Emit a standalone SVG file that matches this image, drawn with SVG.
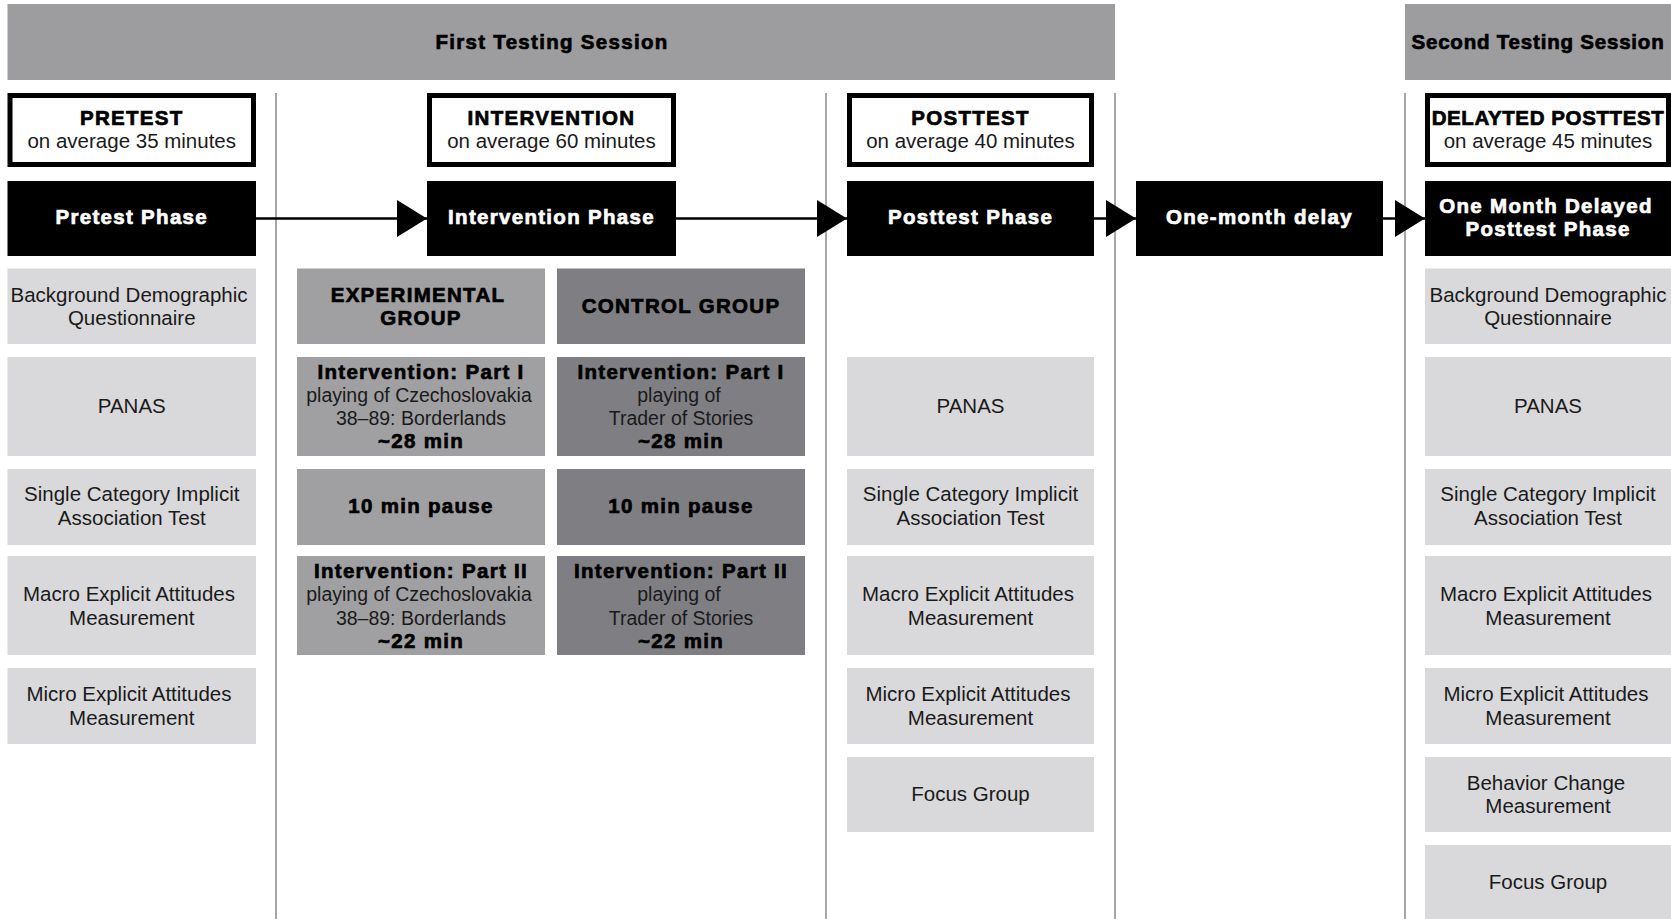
<svg xmlns="http://www.w3.org/2000/svg" width="1671" height="919" viewBox="0 0 1671 919">
<defs>
<style>
.t{font-family:"Liberation Sans",Arial,sans-serif;font-size:20.5px;fill:#1a1a1a;text-anchor:middle}
.s{font-size:19.5px}
.h{font-family:"Liberation Sans",Arial,sans-serif;font-size:20.5px;font-weight:bold;fill:#000;text-anchor:middle;letter-spacing:1.3px;stroke:#000;stroke-width:0.7px}
.w{fill:#fff;stroke:#fff}
.band{fill:#9d9d9f}
.light{fill:#d9d9db}
.exp{fill:#a0a0a2}
.ctl{fill:#7f7f83}
.black{fill:#000}
.hdr{fill:#fff;stroke:#000;stroke-width:5}
.sep{stroke:#8a8a8a;stroke-width:1.5;fill:none}
.conn{stroke:#000;stroke-width:2.5;fill:none}
</style>
<marker id="ah" markerWidth="30" markerHeight="37" refX="30" refY="18.5" markerUnits="userSpaceOnUse" orient="auto">
<path d="M0,0 L30,18.5 L0,37 Z" fill="#000"/>
</marker>
</defs>
<rect width="1671" height="919" fill="#fff"/>

<g id="sessions">
<rect class="band" x="7.5" y="4" width="1107.5" height="76"/>
<text class="h" x="552" y="48.5">First Testing Session</text>
<rect class="band" x="1405" y="4" width="266" height="76"/>
<text class="h" x="1538" y="48.5" style="letter-spacing:0.8px">Second Testing Session</text>
</g>

<g id="separators">
<line class="sep" x1="276" y1="93" x2="276" y2="919"/>
<line class="sep" x1="826" y1="93" x2="826" y2="919"/>
<line class="sep" x1="1115" y1="93" x2="1115" y2="919"/>
<line class="sep" x1="1405" y1="93" x2="1405" y2="919"/>
</g>

<g id="connectors">
<line class="conn" x1="256" y1="218.5" x2="427" y2="218.5" marker-end="url(#ah)"/>
<line class="conn" x1="676" y1="218.5" x2="847" y2="218.5" marker-end="url(#ah)"/>
<line class="conn" x1="1094" y1="218.5" x2="1136" y2="218.5" marker-end="url(#ah)"/>
<line class="conn" x1="1383" y1="218.5" x2="1425" y2="218.5" marker-end="url(#ah)"/>
</g>

<g id="pretest">
<rect class="hdr" x="10" y="95.5" width="243.5" height="69"/>
<text class="h" x="131.75" y="124.5">PRETEST</text>
<text class="t" x="131.75" y="148">on average 35 minutes</text>
</g>
<g id="pretest-phase">
<rect class="black" x="7.5" y="181" width="248.5" height="75"/>
<text class="h w" x="131.75" y="223.5">Pretest Phase</text>
</g>
<g id="pre-background">
<rect class="light" x="7.5" y="268.5" width="248.5" height="75.5"/>
<text class="t" x="129" y="301.5">Background Demographic</text>
<text class="t" x="131.75" y="325">Questionnaire</text>
</g>
<g id="pre-panas">
<rect class="light" x="7.5" y="357" width="248.5" height="99"/>
<text class="t" x="131.75" y="412.5">PANAS</text>
</g>
<g id="pre-sciat">
<rect class="light" x="7.5" y="469" width="248.5" height="76"/>
<text class="t" x="131.75" y="501">Single Category Implicit</text>
<text class="t" x="131.75" y="524.5">Association Test</text>
</g>
<g id="pre-macro">
<rect class="light" x="7.5" y="556" width="248.5" height="99"/>
<text class="t" x="129" y="601">Macro Explicit Attitudes</text>
<text class="t" x="131.75" y="624.5">Measurement</text>
</g>
<g id="pre-micro">
<rect class="light" x="7.5" y="668" width="248.5" height="76"/>
<text class="t" x="129" y="701">Micro Explicit Attitudes</text>
<text class="t" x="131.75" y="724.5">Measurement</text>
</g>

<g id="intervention">
<rect class="hdr" x="429.5" y="95.5" width="244" height="69"/>
<text class="h" x="551.5" y="124.5">INTERVENTION</text>
<text class="t" x="551.5" y="148">on average 60 minutes</text>
</g>
<g id="intervention-phase">
<rect class="black" x="427" y="181" width="249" height="75"/>
<text class="h w" x="551.5" y="223.5">Intervention Phase</text>
</g>
<g id="exp-group">
<rect class="exp" x="297" y="268.5" width="248" height="75.5"/>
<text class="h" x="418" y="301.5">EXPERIMENTAL</text>
<text class="h" x="421" y="325">GROUP</text>
</g>
<g id="ctl-group">
<rect class="ctl" x="557" y="268.5" width="248" height="75.5"/>
<text class="h" x="681" y="312.5">CONTROL GROUP</text>
</g>
<g id="exp-part1">
<rect class="exp" x="297" y="357" width="248" height="99"/>
<text class="h" x="421" y="378.5">Intervention: Part I</text>
<text class="t s" x="419" y="401.5">playing of Czechoslovakia</text>
<text class="t s" x="421" y="424.5">38–89: Borderlands</text>
<text class="h" x="421" y="447.5">~28 min</text>
</g>
<g id="ctl-part1">
<rect class="ctl" x="557" y="357" width="248" height="99"/>
<text class="h" x="681" y="378.5">Intervention: Part I</text>
<text class="t s" x="679" y="401.5">playing of</text>
<text class="t s" x="681" y="424.5">Trader of Stories</text>
<text class="h" x="681" y="447.5">~28 min</text>
</g>
<g id="exp-pause">
<rect class="exp" x="297" y="469" width="248" height="76"/>
<text class="h" x="421" y="512.5">10 min pause</text>
</g>
<g id="ctl-pause">
<rect class="ctl" x="557" y="469" width="248" height="76"/>
<text class="h" x="681" y="512.5">10 min pause</text>
</g>
<g id="exp-part2">
<rect class="exp" x="297" y="556" width="248" height="99"/>
<text class="h" x="421" y="577.5">Intervention: Part II</text>
<text class="t s" x="419" y="601">playing of Czechoslovakia</text>
<text class="t s" x="421" y="624.5">38–89: Borderlands</text>
<text class="h" x="421" y="648">~22 min</text>
</g>
<g id="ctl-part2">
<rect class="ctl" x="557" y="556" width="248" height="99"/>
<text class="h" x="681" y="577.5">Intervention: Part II</text>
<text class="t s" x="679" y="601">playing of</text>
<text class="t s" x="681" y="624.5">Trader of Stories</text>
<text class="h" x="681" y="648">~22 min</text>
</g>

<g id="posttest">
<rect class="hdr" x="849.5" y="95.5" width="242" height="69"/>
<text class="h" x="970.5" y="124.5">POSTTEST</text>
<text class="t" x="970.5" y="148">on average 40 minutes</text>
</g>
<g id="posttest-phase">
<rect class="black" x="847" y="181" width="247" height="75"/>
<text class="h w" x="970.5" y="223.5">Posttest Phase</text>
</g>
<g id="post-panas">
<rect class="light" x="847" y="357" width="247" height="99"/>
<text class="t" x="970.5" y="412.5">PANAS</text>
</g>
<g id="post-sciat">
<rect class="light" x="847" y="469" width="247" height="76"/>
<text class="t" x="970.5" y="501">Single Category Implicit</text>
<text class="t" x="970.5" y="524.5">Association Test</text>
</g>
<g id="post-macro">
<rect class="light" x="847" y="556" width="247" height="99"/>
<text class="t" x="968" y="601">Macro Explicit Attitudes</text>
<text class="t" x="970.5" y="624.5">Measurement</text>
</g>
<g id="post-micro">
<rect class="light" x="847" y="668" width="247" height="76"/>
<text class="t" x="968" y="701">Micro Explicit Attitudes</text>
<text class="t" x="970.5" y="724.5">Measurement</text>
</g>
<g id="post-focus">
<rect class="light" x="847" y="757" width="247" height="75"/>
<text class="t" x="970.5" y="800.5">Focus Group</text>
</g>

<g id="delay">
<rect class="black" x="1136" y="181" width="247" height="75"/>
<text class="h w" x="1259.5" y="223.5">One-month delay</text>
</g>

<g id="delayed-posttest">
<rect class="hdr" x="1427.5" y="95.5" width="241" height="69"/>
<text class="h" x="1548" y="124.5" style="letter-spacing:0.6px">DELAYTED POSTTEST</text>
<text class="t" x="1548" y="148">on average 45 minutes</text>
</g>
<g id="delayed-phase">
<rect class="black" x="1425" y="181" width="246" height="75"/>
<text class="h w" x="1546" y="213">One Month Delayed</text>
<text class="h w" x="1548" y="235.5">Posttest Phase</text>
</g>
<g id="del-background">
<rect class="light" x="1425" y="268.5" width="246" height="75.5"/>
<text class="t" x="1548" y="301.5">Background Demographic</text>
<text class="t" x="1548" y="325">Questionnaire</text>
</g>
<g id="del-panas">
<rect class="light" x="1425" y="357" width="246" height="99"/>
<text class="t" x="1548" y="412.5">PANAS</text>
</g>
<g id="del-sciat">
<rect class="light" x="1425" y="469" width="246" height="76"/>
<text class="t" x="1548" y="501">Single Category Implicit</text>
<text class="t" x="1548" y="524.5">Association Test</text>
</g>
<g id="del-macro">
<rect class="light" x="1425" y="556" width="246" height="99"/>
<text class="t" x="1546" y="601">Macro Explicit Attitudes</text>
<text class="t" x="1548" y="624.5">Measurement</text>
</g>
<g id="del-micro">
<rect class="light" x="1425" y="668" width="246" height="76"/>
<text class="t" x="1546" y="701">Micro Explicit Attitudes</text>
<text class="t" x="1548" y="724.5">Measurement</text>
</g>
<g id="del-behavior">
<rect class="light" x="1425" y="757" width="246" height="75"/>
<text class="t" x="1546" y="789.5">Behavior Change</text>
<text class="t" x="1548" y="813">Measurement</text>
</g>
<g id="del-focus">
<rect class="light" x="1425" y="845" width="246" height="74"/>
<text class="t" x="1548" y="888.5">Focus Group</text>
</g>
</svg>
